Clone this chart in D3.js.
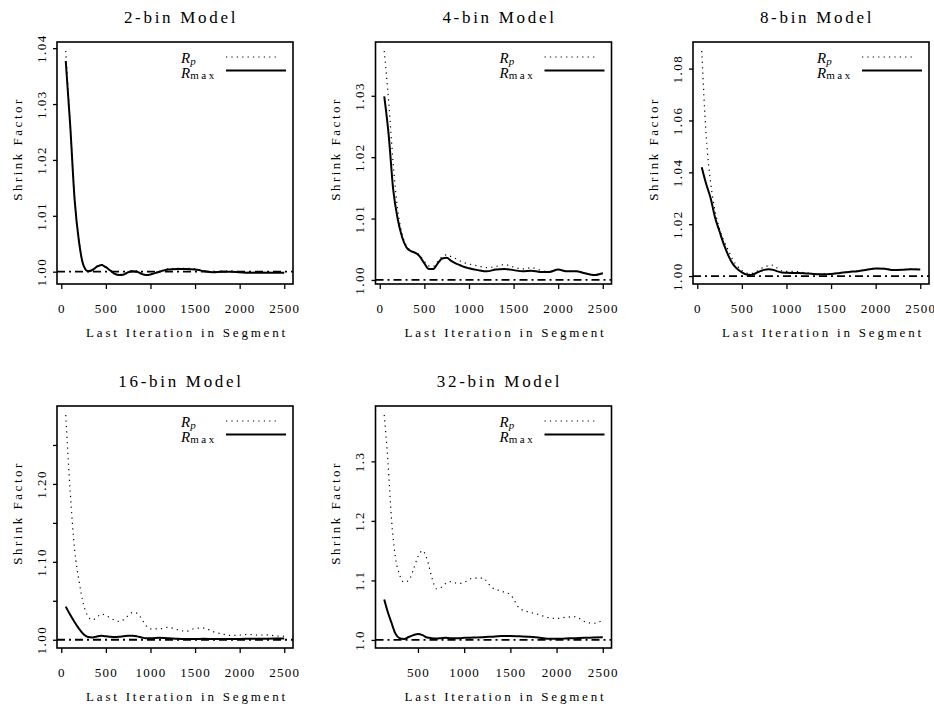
<!DOCTYPE html>
<html>
<head>
<meta charset="utf-8">
<script src="https://cdn.jsdelivr.net/npm/d3@7"></script>
<style>
  body { margin: 0; background: #fff; }
  svg text { font-family: "Liberation Serif", "DejaVu Serif", serif; fill: #000; }
</style>
</head>
<body>
<svg id="chart" width="934" height="709" font-family="Liberation Serif, DejaVu Serif, serif"></svg>
<script>
// ---- data -------------------------------------------------------------
const titles = ["2-bin Model", "4-bin Model", "8-bin Model", "16-bin Model", "32-bin Model"];

// last iteration of each segment
const iterA = [50,100,150,200,250,300,350,400,450,500,550,600,650,700,750,800,850,900,950,1000,
               1100,1200,1300,1400,1500,1600,1700,1800,1900,2000,2100,2200,2300,2400,2500];
const iterB = [135,175,215,255,300,350,400,450,500,550,600,650,700,750,800,850,900,950,1000,
               1100,1200,1300,1400,1500,1600,1700,1800,1900,2000,2100,2200,2300,2400,2500];

const rp2 = [1.0395,1.0265,1.0130,1.0054,1.0012,1.0002,1.0004,1.0010,1.0013,1.0009,1.0003,0.9997,0.9995,0.9996,1.0000,1.0002,1.0001,0.9997,0.9995,0.9996,
             1.0001,1.0005,1.0006,1.0006,1.0005,1.0002,1.0000,1.0001,1.0001,1.0000,0.9999,0.9999,0.9999,0.9999,0.9999];
const rmax2 = [1.0377,1.0262,1.0128,1.0052,1.0011,1.0001,1.0003,1.0009,1.0012,1.0008,1.0002,0.9996,0.9994,0.9995,0.9999,1.0001,1.0000,0.9996,0.9994,0.9995,
               1.0000,1.0004,1.0005,1.0005,1.0004,1.0001,0.9999,1.0000,1.0000,0.9999,0.9998,0.9998,0.9998,0.9998,0.9998];

const rp4 = [1.0373,1.0290,1.0190,1.0115,1.0075,1.0055,1.0048,1.0045,1.0040,1.0030,1.0023,1.0022,1.0030,1.0038,1.0041,1.0038,1.0035,1.0031,1.0028,1.0026,
             1.0023,1.0020,1.0022,1.0025,1.0021,1.0018,1.0020,1.0016,1.0013,1.0017,1.0014,1.0014,1.0011,1.0008,1.0011];
const rmax4 = [1.0299,1.0236,1.0148,1.0100,1.0070,1.0053,1.0047,1.0044,1.0038,1.0027,1.0018,1.0018,1.0027,1.0035,1.0036,1.0031,1.0027,1.0024,1.0021,1.0019,
               1.0016,1.0014,1.0017,1.0018,1.0016,1.0014,1.0015,1.0013,1.0013,1.0017,1.0014,1.0014,1.0011,1.0008,1.0011];

const rp8 = [1.0868,1.0540,1.0360,1.0250,1.0182,1.0135,1.0098,1.0062,1.0038,1.0022,1.0012,1.0010,1.0015,1.0025,1.0035,1.0040,1.0042,1.0030,1.0020,1.0018,
             1.0018,1.0013,1.0009,1.0008,1.0009,1.0013,1.0017,1.0020,1.0025,1.0030,1.0029,1.0024,1.0025,1.0027,1.0026];
const rmax8 = [1.0420,1.0355,1.0300,1.0225,1.0172,1.0120,1.0078,1.0046,1.0027,1.0014,1.0006,1.0004,1.0010,1.0018,1.0024,1.0026,1.0024,1.0018,1.0014,1.0013,
               1.0012,1.0011,1.0008,1.0007,1.0008,1.0012,1.0016,1.0019,1.0024,1.0029,1.0028,1.0023,1.0024,1.0026,1.0025];

const rp16 = [1.2885,1.1900,1.1150,1.0750,1.0450,1.0300,1.0255,1.0290,1.0330,1.0310,1.0280,1.0250,1.0235,1.0260,1.0310,1.0350,1.0340,1.0270,1.0180,1.0140,
              1.0140,1.0160,1.0130,1.0108,1.0145,1.0150,1.0105,1.0075,1.0055,1.0060,1.0068,1.0060,1.0062,1.0050,1.0045];
const rmax16 = [1.0425,1.0320,1.0225,1.0140,1.0070,1.0035,1.0030,1.0042,1.0050,1.0045,1.0037,1.0034,1.0038,1.0045,1.0050,1.0050,1.0043,1.0030,1.0020,1.0018,
                1.0024,1.0020,1.0012,1.0009,1.0010,1.0012,1.0010,1.0009,1.0009,1.0010,1.0012,1.0014,1.0014,1.0015,1.0017];

const rp32 = [1.378,1.300,1.200,1.140,1.110,1.097,1.100,1.118,1.140,1.150,1.135,1.105,1.086,1.088,1.095,1.098,1.096,1.095,1.097,
              1.104,1.104,1.088,1.082,1.076,1.053,1.047,1.043,1.038,1.036,1.038,1.039,1.031,1.028,1.033];
const rmax32 = [1.068,1.046,1.028,1.011,1.003,1.0015,1.005,1.008,1.010,1.008,1.004,1.003,1.0025,1.003,1.0035,1.003,1.003,1.003,1.0035,
                1.004,1.0045,1.0055,1.0065,1.0065,1.006,1.0055,1.004,1.002,1.0018,1.0025,1.003,1.0035,1.004,1.0045];

const xTicksA = [0,500,1000,1500,2000,2500];
const xTicksB = [500,1000,1500,2000,2500];

const yTicks2 = [1.00,1.01,1.02,1.03,1.04];
const yLabels2 = ["1.00","1.01","1.02","1.03","1.04"];
const yTicks4 = [1.00,1.01,1.02,1.03];
const yLabels4 = ["1.00","1.01","1.02","1.03"];
const yTicks8 = [1.00,1.02,1.04,1.06,1.08];
const yLabels8 = ["1.00","1.02","1.04","1.06","1.08"];
const yTicks16 = [1.00,1.05,1.10,1.15,1.20,1.25];
const yLabels16 = ["1.00","","1.10","","1.20",""];
const yTicks32 = [1.0,1.1,1.2,1.3];
const yLabels32 = ["1.0","1.1","1.2","1.3"];

const panels = [
  { title: titles[0], iter: iterA, rp: rp2,  rmax: rmax2,  xt: xTicksA, yt: yTicks2,  yl: yLabels2 },
  { title: titles[1], iter: iterA, rp: rp4,  rmax: rmax4,  xt: xTicksA, yt: yTicks4,  yl: yLabels4 },
  { title: titles[2], iter: iterA, rp: rp8,  rmax: rmax8,  xt: xTicksA, yt: yTicks8,  yl: yLabels8 },
  { title: titles[3], iter: iterA, rp: rp16, rmax: rmax16, xt: xTicksA, yt: yTicks16, yl: yLabels16 },
  { title: titles[4], iter: iterB, rp: rp32, rmax: rmax32, xt: xTicksB, yt: yTicks32, yl: yLabels32 }
];

// ---- layout -----------------------------------------------------------
const boxW = 236, boxH = 242;
const colLeft = [57, 375.5, 693];
const rowTop = [42, 406];
const serif = "'Liberation Serif', 'DejaVu Serif', serif";

const svg = d3.select("#chart");

// pad a [min,max] range by 4% on each side
function padded(ext) {
  const r = ext[1] - ext[0];
  return [ext[0] - 0.04 * r, ext[1] + 0.04 * r];
}

panels.forEach((p, i) => {
  const L = colLeft[i % 3], T = rowTop[Math.floor(i / 3)];
  const g = svg.append("g").attr("transform", `translate(${L},${T})`);

  const x = d3.scaleLinear().domain(padded(d3.extent(p.iter))).range([0, boxW]);
  const y = d3.scaleLinear().domain(padded(d3.extent(p.rp.concat(p.rmax)))).range([boxH, 0]);

  const line = d3.line()
    .x(d => x(d[0]))
    .y(d => y(d[1]))
    .curve(d3.curveMonotoneX);

  // R_p (dotted)
  g.append("path")
    .datum(p.iter.map((v, k) => [v, p.rp[k]]))
    .attr("d", line)
    .attr("fill", "none").attr("stroke", "#000")
    .attr("stroke-width", 1.2).attr("stroke-dasharray", "1.2,4.2");

  // R_max (solid)
  g.append("path")
    .datum(p.iter.map((v, k) => [v, p.rmax[k]]))
    .attr("d", line)
    .attr("fill", "none").attr("stroke", "#000")
    .attr("stroke-width", 2);

  // reference line at 1
  g.append("line")
    .attr("x1", 0).attr("x2", boxW)
    .attr("y1", y(1)).attr("y2", y(1))
    .attr("stroke", "#000").attr("stroke-width", 1.8)
    .attr("stroke-dasharray", "8,4,2,4");

  // frame
  g.append("rect")
    .attr("width", boxW).attr("height", boxH)
    .attr("fill", "none").attr("stroke", "#000").attr("stroke-width", 1.6);

  // x axis
  const xa = g.append("g").attr("transform", `translate(0,${boxH})`)
    .call(d3.axisBottom(x).tickValues(p.xt).tickFormat(d3.format("d")).tickSize(5));
  xa.attr("font-family", serif);
  xa.select(".domain").remove();
  xa.selectAll(".tick line").attr("stroke-width", 1.3);
  xa.selectAll(".tick text")
    .attr("y", 29).attr("dy", 0)
    .style("font-size", "13px").style("letter-spacing", "1.2px")
    .style("font-family", serif);

  // y axis with labels parallel to the axis
  const ya = g.append("g")
    .call(d3.axisLeft(y).tickValues(p.yt).tickFormat((d, k) => p.yl[k]).tickSize(4));
  ya.attr("font-family", serif);
  ya.select(".domain").remove();
  ya.selectAll(".tick line").attr("stroke-width", 1.3);
  ya.selectAll(".tick text")
    .attr("transform", "rotate(-90)")
    .attr("x", 0).attr("y", -11.5).attr("dy", 0)
    .attr("text-anchor", "middle")
    .style("font-size", "13px").style("letter-spacing", "1.5px")
    .style("font-family", serif);

  // title
  g.append("text")
    .attr("x", 124).attr("y", -19)
    .attr("text-anchor", "middle")
    .style("font-family", serif)
    .style("font-size", "17px").style("letter-spacing", "2.7px")
    .text(p.title);

  // axis titles
  g.append("text")
    .attr("x", 130).attr("y", boxH + 53)
    .attr("text-anchor", "middle")
    .style("font-family", serif)
    .style("font-size", "13px").style("letter-spacing", "2.8px")
    .text("Last Iteration in Segment");

  g.append("text")
    .attr("transform", `translate(-35.5,107) rotate(-90)`)
    .attr("text-anchor", "middle")
    .style("font-family", serif)
    .style("font-size", "13px").style("letter-spacing", "2.5px")
    .text("Shrink Factor");

  // legend
  const lg = g.append("g").style("font-family", serif);
  const t1 = lg.append("text").attr("x", 124).attr("y", 21).style("font-size", "15px");
  t1.append("tspan").style("font-style", "italic").text("R");
  t1.append("tspan").style("font-style", "italic").style("font-size", "11px").attr("dy", 2).text("p");
  const t2 = lg.append("text").attr("x", 124).attr("y", 35.5).style("font-size", "15px");
  t2.append("tspan").style("font-style", "italic").text("R");
  t2.append("tspan").style("font-size", "11px").attr("dy", 1.5).style("letter-spacing", "2.6px").text("max");

  lg.append("line")
    .attr("x1", 169).attr("x2", 221).attr("y1", 15).attr("y2", 15)
    .attr("stroke", "#000").attr("stroke-width", 1.2).attr("stroke-dasharray", "1.2,4.2");
  lg.append("line")
    .attr("x1", 169).attr("x2", 229).attr("y1", 28.5).attr("y2", 28.5)
    .attr("stroke", "#000").attr("stroke-width", 2);
});
</script>
</body>
</html>
